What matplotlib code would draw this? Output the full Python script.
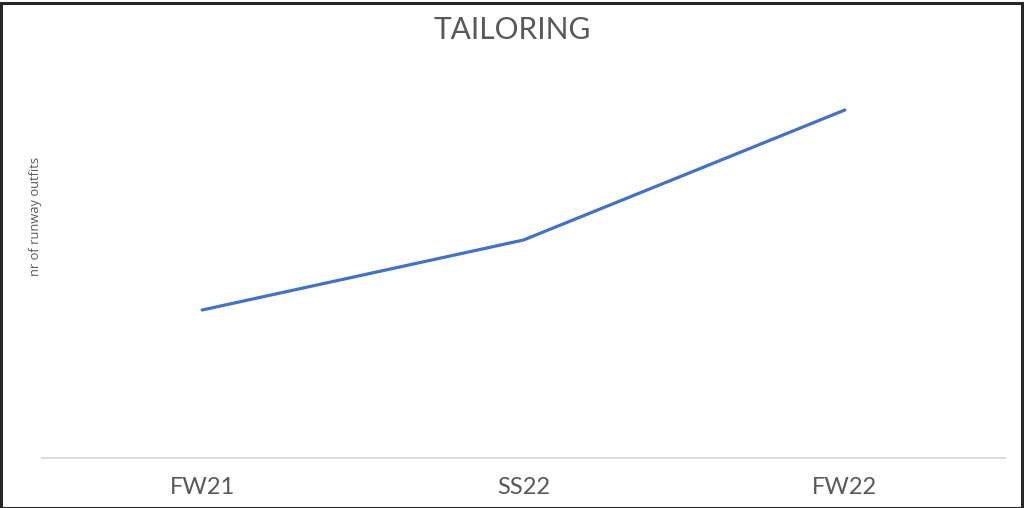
import matplotlib
matplotlib.use("Agg")
import matplotlib.pyplot as plt
from matplotlib.patches import Rectangle

categories = ["FW21", "SS22", "FW22"]
outfits = [148, 218, 348]

W, H, DPI = 1024, 508, 100
fig = plt.figure(figsize=(W / DPI, H / DPI), dpi=DPI)
fig.patch.set_facecolor("white")

# axes: x from 41.5 to 1005.5 px, y from 58 to 458 px (top-down)
ax = fig.add_axes([41.5 / W, (H - 458) / H, (1005.5 - 41.5) / W, 400 / H])
ax.plot(range(len(categories)), outfits, color="#4472C4", lw=2.3,
        solid_capstyle="round", solid_joinstyle="round")
ax.set_xlim(-0.5, len(categories) - 0.5)
ax.set_ylim(0, 400)
ax.set_xticks(range(len(categories)))
ax.set_xticklabels(categories, fontsize=17, color="#595959", family="Lato")
ax.tick_params(axis="x", length=0, pad=14)
ax.set_yticks([])
for s in ["top", "right", "left"]:
    ax.spines[s].set_visible(False)
ax.spines["bottom"].set_color("#D9D9D9")
ax.spines["bottom"].set_linewidth(1.3)

fig.text(36 / W, 1 - 216 / H, "nr of runway outfits", rotation=90,
         ha="center", va="center", fontsize=9.3, color="#595959", family="Open Sans")
fig.text(512 / W, 1 - 30 / H, "TAILORING", ha="center", va="center",
         fontsize=21.5, color="#595959", family="Lato")

# outer border
fig.patches.append(Rectangle((0.5 / W, 0.5 / H), (W - 3) / W, (H - 3) / H,
                             transform=fig.transFigure, fill=False,
                             edgecolor="#262626", lw=2.2))

fig.savefig("out.png", dpi=DPI, facecolor="white")
